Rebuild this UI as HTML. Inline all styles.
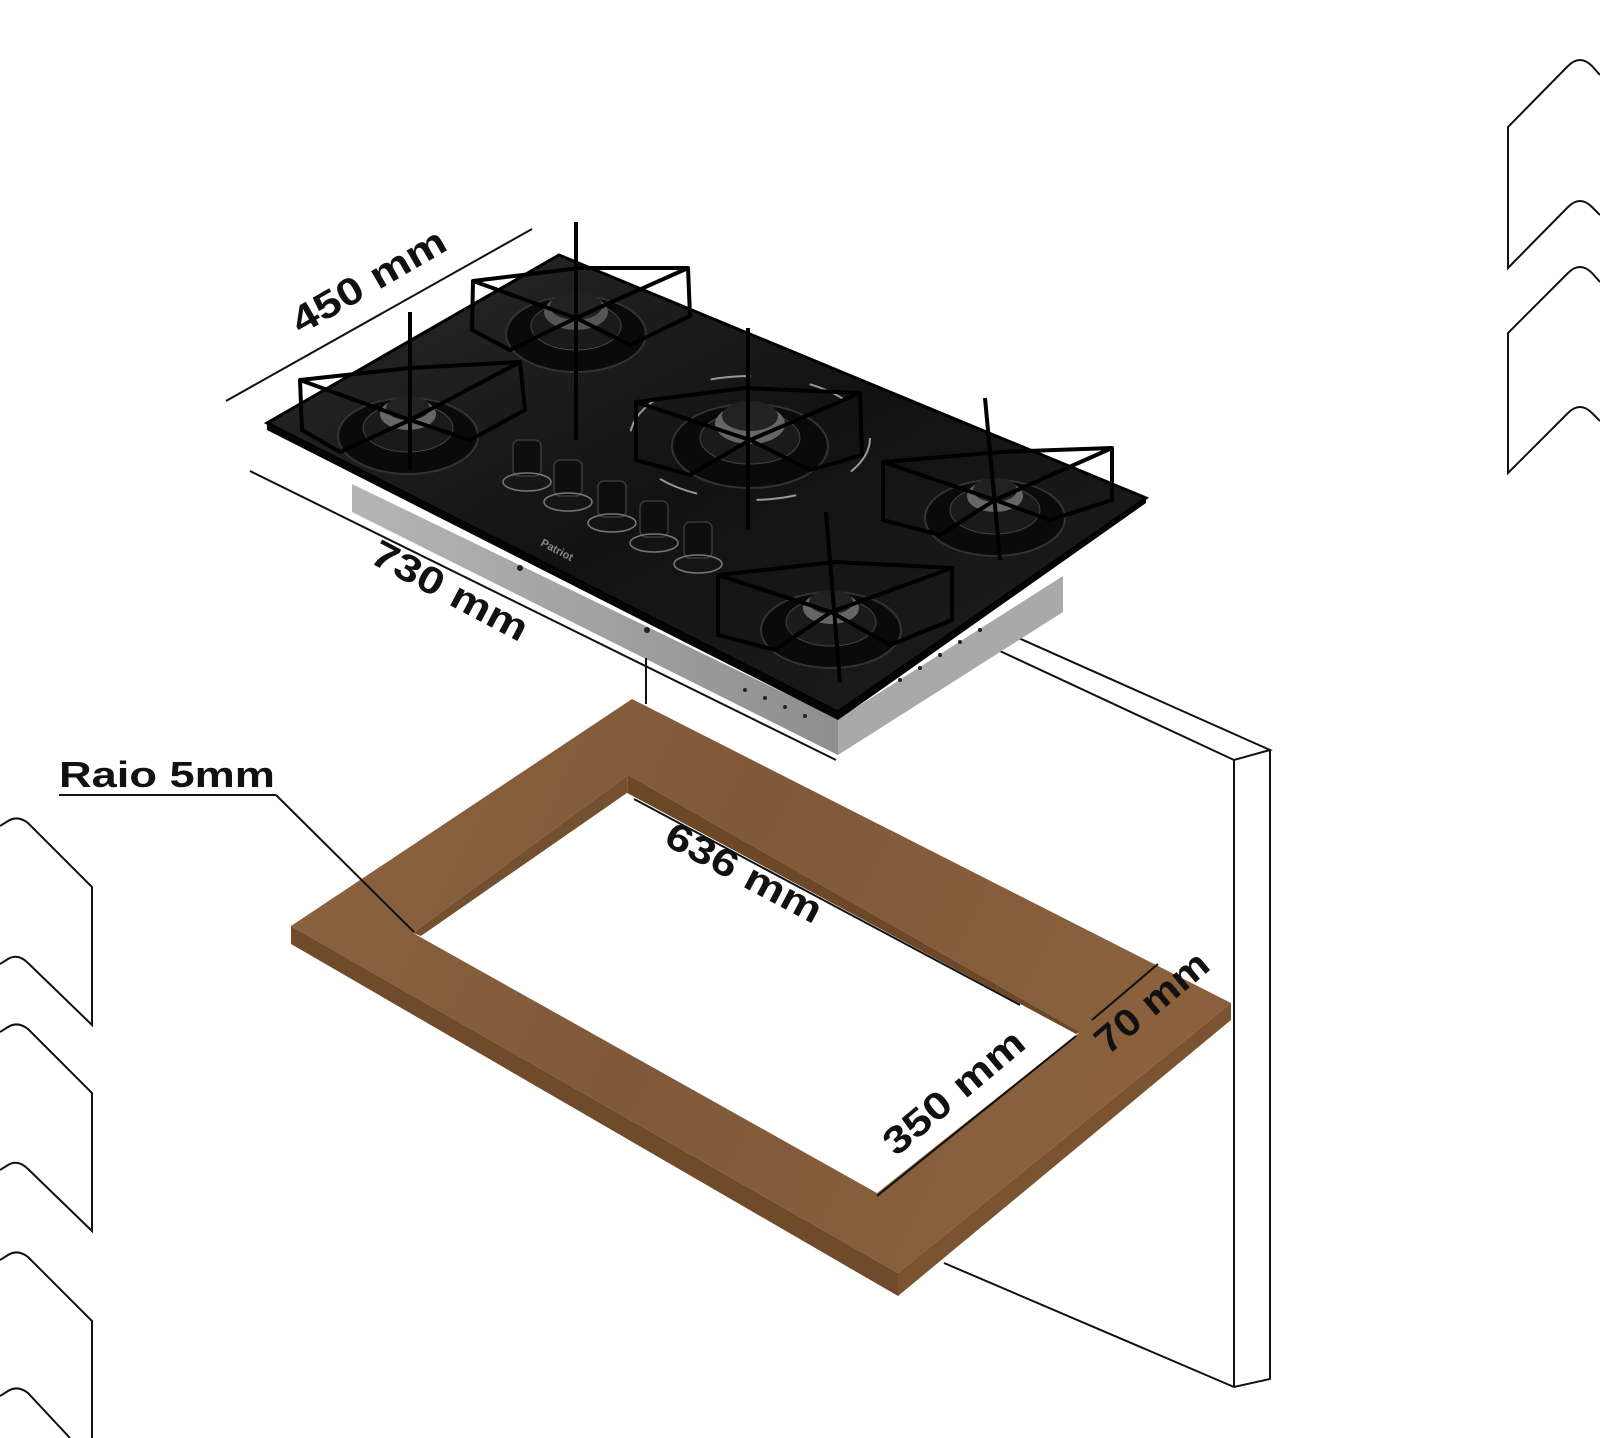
<!DOCTYPE html>
<html><head><meta charset="utf-8"><style>
html,body{margin:0;padding:0;background:#fff}
svg{display:block}
text{font-family:"Liberation Sans",sans-serif;font-weight:bold;fill:#111}
</style></head><body>
<svg width="1600" height="1438" viewBox="0 0 1600 1438" xmlns="http://www.w3.org/2000/svg">
<defs>
<linearGradient id="wood" x1="0" y1="0" x2="1" y2="0.3">
<stop offset="0" stop-color="#8d643f"/><stop offset="0.5" stop-color="#80593a"/><stop offset="1" stop-color="#8a613c"/>
</linearGradient>
<linearGradient id="glass" x1="0" y1="0" x2="1" y2="1">
<stop offset="0" stop-color="#2a2a2a"/><stop offset="0.5" stop-color="#121212"/><stop offset="1" stop-color="#1e1e1e"/>
</linearGradient>
<linearGradient id="steel" x1="0" y1="0" x2="1" y2="0">
<stop offset="0" stop-color="#b5b5b5"/><stop offset="1" stop-color="#8e8e8e"/>
</linearGradient>
</defs>

<g fill="none" stroke="#111" stroke-width="2">
<path d="M1600,75 L1592,66 Q1580,54 1568,66 L1508,127 L1508,268 L1568,207 Q1580,195 1592,207 L1600,215"/>
<path d="M1600,282 L1592,273 Q1580,261 1568,273 L1508,333 L1508,473 L1568,413 Q1580,401 1592,413 L1600,421"/>
<path d="M0,826 L8,821 Q18,815 28,823 L92,887 L92,1025 L28,963 Q18,953 8,959 L0,964"/>
<path d="M0,1032 L8,1027 Q18,1021 28,1029 L92,1093 L92,1231 L28,1169 Q18,1159 8,1165 L0,1170"/>
<path d="M0,1260 L8,1255 Q18,1249 28,1257 L92,1321 L92,1438"/>
<path d="M0,1396 L8,1391 Q18,1385 28,1393 L70,1438"/>
</g>

<g fill="none" stroke="#111" stroke-width="2">
<path d="M1005,632 L1270,750 L1234,760 L987,645"/>
<path d="M1234,760 L1234,1387 M1270,750 L1270,1379 L1234,1387 L944,1263"/>
</g>

<path d="M291,926 L898,1273 L898,1296 L291,944 Z" fill="#6f4b2b"/>
<path d="M898,1273 L1231,1003 L1231,1020 L898,1296 Z" fill="#7a5331"/>
<path fill-rule="evenodd" fill="url(#wood)" d="M632,699 L1231,1003 L898,1273 L291,926 Z M628,775 L413,933 L877,1193 L1080,1032 Z"/>
<path d="M628,775 L1080,1032 L1076,1034 L627,793 Z" fill="#6c4828"/>
<path d="M628,775 L413,933 L421,936 L627,793 Z" fill="#73502f"/>
<path d="M627,793 L421,936 L877,1193 L1076,1034 Z" fill="#fff"/>

<path d="M352,484 L838,719 L838,755 L352,512 Z" fill="url(#steel)"/>
<path d="M838,719 L1063,576 L1063,612 L838,755 Z" fill="#a9a9a9"/>
<g fill="#222"><circle cx="520" cy="568" r="3"/><circle cx="647" cy="630" r="3"/>
<circle cx="745" cy="690" r="2"/><circle cx="765" cy="698" r="2"/><circle cx="785" cy="707" r="2"/><circle cx="805" cy="716" r="2"/>
<circle cx="900" cy="680" r="2"/><circle cx="920" cy="668" r="2"/><circle cx="940" cy="655" r="2"/><circle cx="960" cy="642" r="2"/><circle cx="980" cy="630" r="2"/></g>
<path d="M267,423 L559,255 L1146,498 L838,712 Z" fill="url(#glass)" stroke="#000" stroke-width="3"/>
<path d="M267,423 L838,712 L1146,498 L1146,503 L838,720 L267,430 Z" fill="#050505"/>

<g>
<g transform="translate(408,418)"><ellipse rx="70" ry="38" cy="18" fill="#0a0a0a" stroke="#333" stroke-width="2"/><ellipse rx="45" ry="24" cy="10" fill="#1a1a1a" stroke="#444"/><ellipse rx="28" ry="16" cy="-4" fill="#666"/><ellipse rx="22" ry="12" cy="-10" fill="#222"/></g>
<g transform="translate(576,316)"><ellipse rx="70" ry="38" cy="18" fill="#0a0a0a" stroke="#333" stroke-width="2"/><ellipse rx="45" ry="24" cy="10" fill="#1a1a1a" stroke="#444"/><ellipse rx="32" ry="18" cy="-4" fill="#555"/><ellipse rx="26" ry="14" cy="-10" fill="#222"/></g>
<g transform="translate(750,428)"><ellipse rx="78" ry="42" cy="18" fill="#0a0a0a" stroke="#333" stroke-width="2"/><ellipse rx="50" ry="26" cy="10" fill="#1a1a1a" stroke="#444"/><ellipse rx="35" ry="20" cy="-4" fill="#666"/><ellipse rx="28" ry="15" cy="-12" fill="#222"/>
<ellipse rx="120" ry="62" cy="10" fill="none" stroke="#999" stroke-width="2" stroke-dasharray="40 60"/></g>
<g transform="translate(995,500)"><ellipse rx="70" ry="38" cy="18" fill="#0a0a0a" stroke="#333" stroke-width="2"/><ellipse rx="45" ry="24" cy="10" fill="#1a1a1a" stroke="#444"/><ellipse rx="28" ry="16" cy="-4" fill="#666"/><ellipse rx="22" ry="12" cy="-10" fill="#222"/></g>
<g transform="translate(831,612)"><ellipse rx="70" ry="38" cy="18" fill="#0a0a0a" stroke="#333" stroke-width="2"/><ellipse rx="45" ry="24" cy="10" fill="#1a1a1a" stroke="#444"/><ellipse rx="28" ry="16" cy="-4" fill="#666"/><ellipse rx="22" ry="12" cy="-10" fill="#222"/></g>
</g>
<g fill="none" stroke="#000" stroke-width="4" stroke-linejoin="round">
<path d="M300,380 L410,368 L520,362 L525,410 L470,440 L410,420 L340,452 L302,430 Z"/><path d="M410,312 L410,470 M300,380 L410,420 L520,362"/>
<path d="M473,281 L580,268 L688,268 L690,316 L630,345 L576,318 L510,350 L472,330 Z"/><path d="M576,222 L576,440 M473,281 L576,318 L688,268"/>
<path d="M636,402 L745,388 L860,393 L862,455 L810,470 L750,440 L690,475 L636,460 Z"/><path d="M748,328 L748,530 M636,402 L750,440 L860,393"/>
<path d="M883,462 L1000,452 L1112,448 L1112,500 L1050,520 L995,500 L940,535 L883,520 Z"/><path d="M985,398 L1000,560 M883,462 L995,500 L1112,448"/>
<path d="M718,575 L835,562 L952,568 L952,620 L890,645 L831,612 L775,650 L718,635 Z"/><path d="M826,512 L840,682 M718,575 L831,612 L952,568"/>
</g>
<g fill="#0e0e0e" stroke="#3a3a3a" stroke-width="1.5">
<rect x="513" y="440" width="28" height="36" rx="6"/><rect x="554" y="460" width="28" height="36" rx="6"/><rect x="598" y="481" width="28" height="36" rx="6"/><rect x="640" y="501" width="28" height="36" rx="6"/><rect x="684" y="522" width="28" height="36" rx="6"/>
</g>
<g fill="none" stroke="#777" stroke-width="1.5">
<ellipse cx="527" cy="482" rx="24" ry="9"/><ellipse cx="568" cy="502" rx="24" ry="9"/><ellipse cx="612" cy="523" rx="24" ry="9"/><ellipse cx="654" cy="543" rx="24" ry="9"/><ellipse cx="698" cy="564" rx="24" ry="9"/>
</g>
<text x="0" y="0" font-size="11" style="fill:#888" transform="translate(540,545) rotate(28)">Patriot</text>

<g stroke="#111" stroke-width="2" fill="none">
<line x1="226" y1="401" x2="532" y2="229"/>
<line x1="250" y1="471" x2="836" y2="760"/>
<line x1="646" y1="658" x2="646" y2="704"/>
<line x1="59" y1="795" x2="276" y2="795"/><line x1="276" y1="795" x2="414" y2="932"/>
<line x1="634" y1="799" x2="1020" y2="1005"/>
<line x1="877" y1="1196" x2="1076" y2="1036"/>
<line x1="1092" y1="1020" x2="1158" y2="964"/>
</g>

<g font-size="38">
<text text-anchor="middle" transform="translate(375,292) rotate(-30)" textLength="172" lengthAdjust="spacingAndGlyphs">450 mm</text>
<text text-anchor="middle" transform="translate(444,602) rotate(28)" textLength="172" lengthAdjust="spacingAndGlyphs">730 mm</text>
<text text-anchor="middle" transform="translate(738,884) rotate(28)" textLength="172" lengthAdjust="spacingAndGlyphs">636 mm</text>
<text text-anchor="middle" transform="translate(962,1102) rotate(-40)" textLength="172" lengthAdjust="spacingAndGlyphs">350 mm</text>
<text text-anchor="middle" transform="translate(1160,1012) rotate(-40)" textLength="136" lengthAdjust="spacingAndGlyphs">70 mm</text>
</g>
<text x="59" y="787" font-size="36" textLength="216" lengthAdjust="spacingAndGlyphs">Raio 5mm</text>
</svg>
</body></html>
